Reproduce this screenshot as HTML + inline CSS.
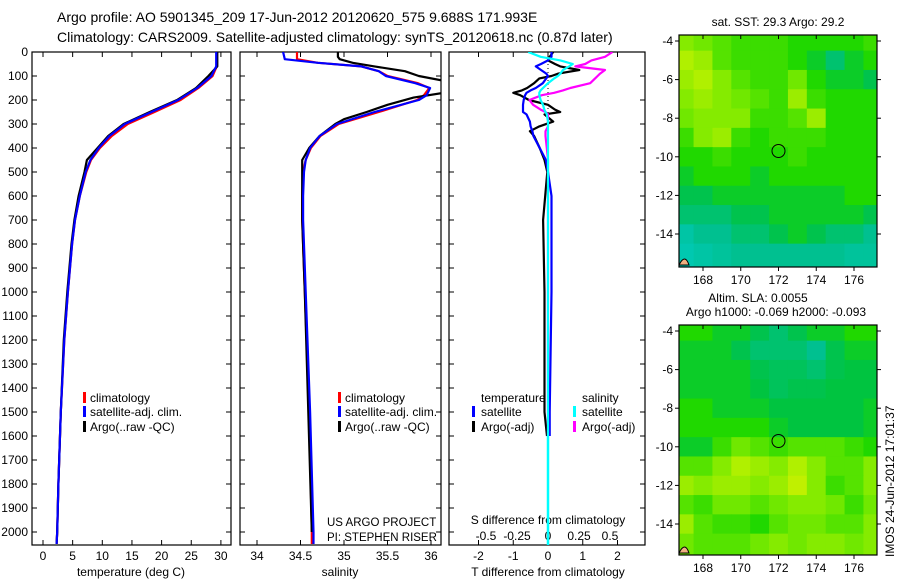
<!DOCTYPE html>
<html><head><meta charset="utf-8"><style>
body{margin:0;background:#fff}
svg text{font-family:"Liberation Sans",sans-serif;font-size:12px;fill:#000}
</style></head><body>
<svg id="c" width="900" height="580" xmlns="http://www.w3.org/2000/svg">
<text x="57" y="22" style="font-size:14px">Argo profile: AO 5901345_209 17-Jun-2012 20120620_575 9.688S 171.993E</text>
<text x="57" y="42" style="font-size:14px">Climatology: CARS2009. Satellite-adjusted climatology: synTS_20120618.nc (0.87d later)</text>
</svg>
<script>
const depthT=[0,60,100,150,200,250,300,350,400,450,500,600,700,800,1000,1200,1500,1800,2000,2050];
const tempClim=[29.3,29.3,28.6,26.2,23.2,18.8,14.3,11.6,9.6,8.1,7.3,6.2,5.4,4.9,4.2,3.6,3.0,2.6,2.4,2.3];
const tempSat=[29.2,29.2,28.4,26.0,22.8,18.3,13.8,11.2,9.4,8.0,7.2,6.2,5.4,4.9,4.2,3.6,3.0,2.6,2.4,2.3];
const tempArgo=[29.4,29.4,27.9,25.8,22.6,18.0,13.6,11.0,9.2,7.4,7.0,6.0,5.3,4.8,4.1,3.5,3.0,2.6,2.4,2.3];
const depthS=[0,30,45,60,80,100,130,150,180,200,250,300,350,400,450,500,600,700,1000,1500,2000,2050];
const salClim=[34.46,34.46,34.7,35.2,35.4,35.5,35.85,35.98,35.92,35.84,35.4,34.94,34.73,34.62,34.56,34.53,34.52,34.52,34.55,34.6,34.63,34.63];
const salSat=[34.3,34.32,34.7,35.2,35.4,35.48,35.82,35.99,35.95,35.86,35.35,34.92,34.72,34.61,34.56,34.54,34.53,34.53,34.56,34.61,34.65,34.65];
const depthSA=[0,20,30,45,60,80,100,120,170,190,220,250,280,300,350,400,450,500,700,1000,2000];
const salArgo=[34.93,34.93,34.95,35.1,35.35,35.7,35.86,36.15,36.15,35.8,35.5,35.26,35.0,34.9,34.72,34.6,34.52,34.52,34.52,34.55,34.63];
const depthD=[0,20,35,50,60,75,90,100,110,130,150,160,170,180,200,220,240,250,260,290,310,330,350,400,450,500,600,700,1000,1500,1600];
const tDiffSat=[0.1,0.1,0.0,-0.2,-0.35,-0.2,-0.05,0.0,-0.05,-0.15,-0.35,-0.5,-0.62,-0.66,-0.7,-0.72,-0.72,-0.72,-0.62,-0.52,-0.5,-0.45,-0.42,-0.24,-0.06,0.0,0.1,0.1,0.1,0.05,0.05];
const tDiffArgo=[0.15,0.05,0.0,0.2,0.35,0.9,0.3,0.1,-0.25,-0.4,-0.6,-0.75,-1.0,-0.8,-0.55,0.0,0.2,0.35,-0.1,0.15,-0.25,-0.52,-0.4,-0.24,-0.1,-0.02,-0.08,-0.14,-0.1,-0.1,-0.03];
const sDiffSat=[-0.16,-0.06,0.1,0.2,0.17,0.12,0.1,0.08,0.05,0.0,-0.04,-0.06,-0.07,-0.07,-0.06,-0.04,-0.03,-0.02,-0.01,0.0,0.0,0.0,0.0,0.0,0.0,0.0,0.0,0.0,0.0,0.0,0.0];
const sDiffArgo=[0.52,0.46,0.35,0.3,0.22,0.46,0.42,0.4,0.38,0.34,0.18,0.12,0.05,-0.05,-0.15,-0.12,-0.06,-0.02,0.0,0.0,0.0,-0.02,-0.02,-0.01,0.0,0.0,0.0,0.0,0.0,0.0,0.0];
const depthTicks=[0,100,200,300,400,500,600,700,800,900,1000,1100,1200,1300,1400,1500,1600,1700,1800,1900,2000];
const tempTicks=[0,5,10,15,20,25,30];
const salTicks=[34,34.5,35,35.5,36];
const tdTicks=[-2,-1,0,1,2];
const sdTicks=[-0.5,-0.25,0,0.25,0.5];
const sdTickLabels=["-0.5","-0.25","0","0.25","0.5"];
const lonTicks=[168,170,172,174,176];
const latTicks=[-4,-6,-8,-10,-12,-14];
const sstGrid=[
[0.7,0.65,0.6,0.55,0.55,0.55,0.5,0.5,0.5,0.5,0.55],
[0.8,0.75,0.6,0.55,0.55,0.55,0.5,0.45,0.35,0.45,0.5],
[0.75,0.8,0.7,0.6,0.55,0.55,0.65,0.5,0.45,0.45,0.4],
[0.7,0.75,0.7,0.65,0.6,0.55,0.75,0.55,0.5,0.5,0.5],
[0.65,0.7,0.7,0.7,0.55,0.55,0.6,0.75,0.5,0.5,0.5],
[0.55,0.7,0.75,0.55,0.5,0.55,0.55,0.55,0.5,0.5,0.5],
[0.5,0.5,0.55,0.5,0.5,0.5,0.55,0.5,0.5,0.5,0.5],
[0.45,0.5,0.5,0.5,0.45,0.5,0.5,0.5,0.5,0.5,0.5],
[0.4,0.4,0.45,0.45,0.45,0.45,0.45,0.45,0.45,0.5,0.5],
[0.35,0.35,0.35,0.4,0.4,0.45,0.45,0.45,0.45,0.45,0.4],
[0.2,0.3,0.3,0.35,0.35,0.4,0.45,0.4,0.35,0.35,0.3],
[0.15,0.2,0.25,0.3,0.3,0.3,0.3,0.3,0.3,0.25,0.25]];
const slaGrid=[
[0.5,0.5,0.45,0.45,0.4,0.35,0.4,0.45,0.45,0.5,0.5],
[0.45,0.45,0.45,0.4,0.35,0.35,0.35,0.3,0.4,0.45,0.45],
[0.45,0.45,0.45,0.45,0.4,0.38,0.38,0.35,0.4,0.42,0.42],
[0.45,0.45,0.45,0.45,0.42,0.38,0.4,0.4,0.42,0.42,0.42],
[0.5,0.5,0.45,0.45,0.45,0.42,0.42,0.42,0.42,0.42,0.45],
[0.5,0.5,0.5,0.5,0.5,0.45,0.42,0.42,0.42,0.42,0.45],
[0.45,0.45,0.55,0.65,0.6,0.55,0.6,0.6,0.6,0.55,0.5],
[0.6,0.6,0.7,0.8,0.75,0.7,0.8,0.7,0.6,0.6,0.7],
[0.75,0.7,0.75,0.75,0.7,0.75,0.85,0.7,0.55,0.6,0.7],
[0.6,0.55,0.65,0.65,0.6,0.65,0.7,0.7,0.65,0.55,0.65],
[0.75,0.6,0.55,0.55,0.5,0.6,0.65,0.65,0.6,0.6,0.7],
[0.65,0.6,0.6,0.6,0.65,0.7,0.65,0.7,0.7,0.65,0.7]];

const NS='http://www.w3.org/2000/svg';
const svg=document.getElementById('c');
function mk(tag,attrs,parent){const e=document.createElementNS(NS,tag);for(const k in attrs)e.setAttribute(k,attrs[k]);(parent||svg).appendChild(e);return e;}
const yD=d=>52+d*0.24;
const PT=52,PB=545;
function panel(x0,x1,name){
  const r=mk('rect',{x:x0,y:PT,width:x1-x0,height:PB-PT,fill:'none',stroke:'#000','stroke-width':1.2});
  
  
  depthTicks.forEach(d=>{
    mk('line',{x1:x0,x2:x0+5,y1:yD(d),y2:yD(d),stroke:'#000'});
    mk('line',{x1:x1-5,x2:x1,y1:yD(d),y2:yD(d),stroke:'#000'});
  });
}
function xTicks(vals,fx,labels,ly,name){
  vals.forEach((v,i)=>{
    const x=fx(v);
    mk('line',{x1:x,x2:x,y1:PB,y2:PB-5,stroke:'#000'});
    mk('line',{x1:x,x2:x,y1:PT,y2:PT+5,stroke:'#000'});
    const t=mk('text',{x:x,y:ly,'text-anchor':'middle'});t.textContent=labels?labels[i]:String(v);
    
    
  });
}
function line(ds,vs,fx,color,w,name,clip){
  const p=ds.map((d,i)=>`${i?'L':'M'}${fx(vs[i]).toFixed(1)},${yD(d).toFixed(1)}`).join('');
  const e=mk('path',{d:p,fill:'none',stroke:color,'stroke-width':w,'stroke-linejoin':'round'});
  if(clip)e.setAttribute('clip-path',clip);
  
  
}
function txt(x,y,s,name,extra){const t=mk('text',Object.assign({x:x,y:y},extra||{}));t.textContent=s;
  
  return t;}
function legBar(x,y,color){const e=mk('rect',{x:x,y:y-10,width:3,height:11,fill:color});
  
  }

const defs=mk('defs',{});
[['cp1',32,231],['cp2',240,441],['cp3',449,645]].forEach(([id,a,b])=>{const c=mk('clipPath',{id:id},defs);mk('rect',{x:a,y:PT,width:b-a,height:PB-PT},c);});

depthTicks.forEach(d=>{txt(28,yD(d)+4,String(d),'y-tick-label',{'text-anchor':'end'});});

const xT=v=>43+v*5.93;
panel(32,231,'temperature-panel');
xTicks(tempTicks,xT,null,560,'temperature-tick-label');
txt(131,576,'temperature (deg C)','temperature-axis-title',{'text-anchor':'middle'});
line(depthT,tempClim,xT,'#ff0000',2.2,'temp-climatology-line','url(#cp1)');
line(depthT,tempArgo,xT,'#000',2.2,'temp-argo-line','url(#cp1)');
line(depthT,tempSat,xT,'#0000ff',2.2,'temp-satellite-line','url(#cp1)');
legBar(83,402,'#ff0000');txt(90,402,'climatology','legend-climatology');
legBar(83,416,'#0000ff');txt(90,416,'satellite-adj. clim.','legend-satellite');
legBar(83,431,'#000');txt(90,431,'Argo(..raw -QC)','legend-argo');

const xS=v=>257+(v-34)*87;
panel(240,441,'salinity-panel');
xTicks(salTicks,xS,null,560,'salinity-tick-label');
txt(340,576,'salinity','salinity-axis-title',{'text-anchor':'middle'});
line(depthS,salClim,xS,'#ff0000',2.2,'sal-climatology-line','url(#cp2)');
line(depthSA,salArgo,xS,'#000',2.2,'sal-argo-line','url(#cp2)');
line(depthS,salSat,xS,'#0000ff',2.2,'sal-satellite-line','url(#cp2)');
legBar(338,402,'#ff0000');txt(345,402,'climatology','legend-climatology');
legBar(338,416,'#0000ff');txt(345,416,'satellite-adj. clim.','legend-satellite');
legBar(338,431,'#000');txt(345,431,'Argo(..raw -QC)','legend-argo');
txt(327,526,'US ARGO PROJECT','project-label',{style:'font-size:11.5px'});
txt(327,541,'PI: STEPHEN RISER','pi-label',{style:'font-size:11.5px'});

const xTD=v=>548+v*34.75;
const xSD=v=>548+v*124;
panel(449,645,'difference-panel');
xTicks(tdTicks,xTD,null,560,'tdiff-tick-label');
sdTicks.forEach((v,i)=>{txt(xSD(v),540,sdTickLabels[i],'sdiff-tick-label',{'text-anchor':'middle'});});
txt(548,524,'S difference from climatology','sdiff-axis-title',{'text-anchor':'middle'});
txt(548,576,'T difference from climatology','tdiff-axis-title',{'text-anchor':'middle'});
mk('line',{x1:xTD(0),x2:xTD(0),y1:PT,y2:yD(500),stroke:'#000','stroke-dasharray':'1,3'});
line(depthD,tDiffArgo,xTD,'#000',2.2,'tdiff-argo-line','url(#cp3)');
line(depthD,tDiffSat,xTD,'#0000ff',2.2,'tdiff-satellite-line','url(#cp3)');
line(depthD,sDiffArgo,xSD,'#ff00ff',2.2,'sdiff-argo-line','url(#cp3)');
line(depthD,sDiffSat,xSD,'#00ffff',2.2,'sdiff-satellite-line','url(#cp3)');
mk('line',{x1:548,x2:548,y1:yD(1600),y2:PB,stroke:'#00ffff','stroke-width':2.5});
txt(481,402,'temperature','legend-temperature-heading');
legBar(472,416,'#0000ff');txt(481,416,'satellite','legend-t-satellite');
legBar(472,431,'#000');txt(481,431,'Argo(-adj)','legend-t-argo');
txt(582,402,'salinity','legend-salinity-heading');
legBar(573,416,'#00ffff');txt(582,416,'satellite','legend-s-satellite');
legBar(573,431,'#ff00ff');txt(582,431,'Argo(-adj)','legend-s-argo');

const stops=[[0,[0,208,208]],[0.3,[0,192,144]],[0.42,[0,196,64]],[0.5,[32,216,0]],[0.65,[112,232,0]],[0.8,[176,240,0]],[1,[240,240,0]]];
function cmap(v){for(let i=1;i<stops.length;i++){if(v<=stops[i][0]){const[a,ca]=stops[i-1],[b,cb]=stops[i];const t=(v-a)/(b-a);return `rgb(${ca.map((c,k)=>Math.round(c+(cb[k]-c)*t)).join(',')})`;}}return 'rgb(240,240,0)';}
function map(top,bottom,lat4y,grid,id,name){
  const L=679,R=877;
  const xL=lon=>703+(lon-168)*18.875;
  const yL=lat=>lat4y+(-4-lat)*19.3;
  const c=mk('clipPath',{id:id},defs);mk('rect',{x:L,y:top,width:R-L,height:bottom-top},c);
  const g=mk('g',{'clip-path':`url(#${id})`});
  
  
  grid.forEach((row,j)=>row.forEach((v,i)=>{
    const lon=167+i,lat=-4-j;
    const h=(j===grid.length-1)?40:19.8;
    const cell=mk('rect',{x:xL(lon-0.5),y:yL(lat+0.5),width:19.4,height:h,fill:cmap(v)},g);
    
    
  }));
  mk('path',{d:`M${L},${bottom-2}q6,-12 10,0z`,fill:'#f0b080',stroke:'#000'},g);
  const fr=mk('rect',{x:L,y:top,width:R-L,height:bottom-top,fill:'none',stroke:'#000','stroke-width':1.2});
  
  
  const ci=mk('circle',{cx:xL(172),cy:yL(-9.7),r:6.5,fill:'none',stroke:'#000','stroke-width':1});
  
  
  lonTicks.forEach(lon=>{const x=xL(lon);mk('line',{x1:x,x2:x,y1:top,y2:top+4,stroke:'#000'});mk('line',{x1:x,x2:x,y1:bottom,y2:bottom+4,stroke:'#000'});
    txt(x,bottom+17,String(lon),'map-lon-tick-label',{'text-anchor':'middle'});});
  latTicks.forEach(lat=>{const y=yL(lat);mk('line',{x1:L-4,x2:L,y1:y,y2:y,stroke:'#000'});mk('line',{x1:R,x2:R+4,y1:y,y2:y,stroke:'#000'});
    txt(L-6,y+4,String(lat),'map-lat-tick-label',{'text-anchor':'end'});});
}
map(35,267,41,sstGrid,'mc1','sst-map');
txt(778,26,'sat. SST: 29.3 Argo: 29.2','sst-map-title',{'text-anchor':'middle'});
map(325,555,331,slaGrid,'mc2','sla-map');
txt(758,302,'Altim. SLA: 0.0055','sla-map-title',{'text-anchor':'middle'});
txt(776,316,'Argo h1000: -0.069 h2000: -0.093','sla-map-subtitle',{'text-anchor':'middle'});
txt(0,0,'IMOS 24-Jun-2012 17:01:37','timestamp-label',{transform:'translate(894,557) rotate(-90)'});
</script>
</body></html>
